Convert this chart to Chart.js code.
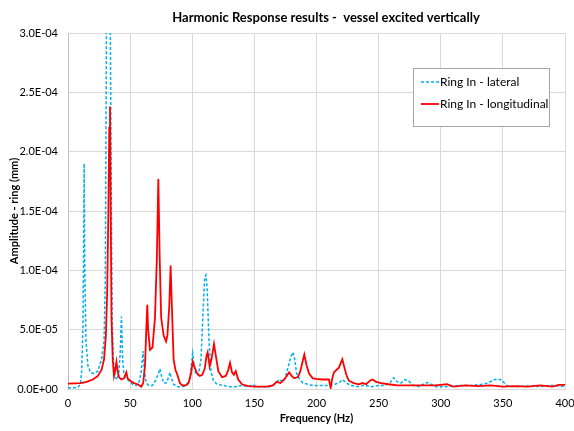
<!DOCTYPE html>
<html>
<head>
<meta charset="utf-8">
<script src="https://cdn.jsdelivr.net/npm/chart.js@4"></script>
<style>
  html, body { margin: 0; padding: 0; background: #fff; }
  #wrap { width: 574px; height: 431px; }
</style>
</head>
<body>
<div id="wrap"><canvas id="harmonicChart" width="574" height="431"></canvas></div>
<script>
const chartTitle = "Harmonic Response results -  vessel excited vertically";
const xTitle = "Frequency (Hz)";
const yTitle = "Amplitude - ring (mm)";

// Ring In - lateral (dashed blue)
const lateralFreq = [0, 5, 8, 10, 11, 12, 12.6, 13, 13.5, 14.5, 16, 18, 21, 24, 27, 29, 30, 30.5, 31, 32.5, 34, 34.6, 35.5, 36.5, 38, 39.5, 41, 42, 43, 44, 45, 47, 49, 52, 55, 57, 59, 60.5, 61.5, 63, 65, 68, 71, 73, 74, 75, 77, 79, 81, 82, 83, 85, 88, 92, 95, 98, 99.5, 100.3, 101.5, 103, 105, 107, 108.5, 110, 111, 112, 113.5, 115, 117, 120, 125, 130, 135, 140, 145, 149, 152, 158, 163, 167, 170, 173, 175, 177, 179, 181, 182.5, 184, 186, 189, 193, 197, 205, 210, 215, 219, 221, 224, 228, 232, 238, 244, 250, 255, 259, 262, 265, 268, 271, 274, 278, 283, 286, 289, 292, 296, 305, 315, 325, 333, 338, 342, 346, 349, 353, 360, 370, 380, 390, 400];
const lateralAmp = [1.0e-6, 1.0e-6, 1.5e-6, 4.0e-6, 1.5e-5, 5.0e-5, 1.2e-4, 1.9e-4, 1.0e-4, 4.0e-5, 2.0e-5, 1.4e-5, 1.3e-5, 1.5e-5, 2.5e-5, 4.0e-5, 9.0e-5, 2.0e-4, 3.2e-4, 5.0e-4, 3.2e-4, 2.0e-4, 6.0e-5, 2.5e-5, 1.0e-5, 8.0e-6, 1.5e-5, 3.0e-5, 6.1e-5, 2.5e-5, 1.3e-5, 9.0e-6, 7.0e-6, 4.0e-6, 3.0e-6, 5.0e-6, 1.5e-5, 3.2e-5, 1.5e-5, 5.0e-6, 3.0e-6, 3.0e-6, 8.0e-6, 1.4e-5, 1.7e-5, 1.2e-5, 5.0e-6, 5.0e-6, 1.0e-5, 1.4e-5, 1.0e-5, 4.0e-6, 2.0e-6, 2.0e-6, 3.0e-6, 8.0e-6, 2.2e-5, 3.0e-5, 2.0e-5, 1.2e-5, 1.2e-5, 2.5e-5, 6.0e-5, 9.4e-5, 9.6e-5, 8.5e-5, 4.0e-5, 1.5e-5, 7.0e-6, 4.0e-6, 3.0e-6, 2.0e-6, 2.0e-6, 3.0e-6, 2.0e-6, 3.5e-6, 2.0e-6, 2.0e-6, 2.0e-6, 5.0e-6, 8.0e-6, 6.0e-6, 1.0e-5, 1.8e-5, 2.6e-5, 3.1e-5, 2.5e-5, 1.3e-5, 9.0e-6, 5.0e-6, 4.0e-6, 3.0e-6, 3.0e-6, 3.0e-6, 4.0e-6, 6.0e-6, 8.0e-6, 5.0e-6, 3.0e-6, 2.0e-6, 3.0e-6, 2.0e-6, 3.0e-6, 3.0e-6, 5.0e-6, 9.5e-6, 6.0e-6, 5.0e-6, 8.0e-6, 7.0e-6, 3.0e-6, 2.0e-6, 4.0e-6, 5.5e-6, 4.0e-6, 2.0e-6, 2.0e-6, 3.0e-6, 3.0e-6, 4.0e-6, 5.0e-6, 7.5e-6, 8.5e-6, 7.5e-6, 3.0e-6, 2.0e-6, 2.5e-6, 2.0e-6, 3.0e-6, 2.0e-6];

// Ring In - longitudinal (solid red)
const longFreq = [0, 10, 15, 20, 24, 27, 29, 30.5, 31.5, 32.5, 33.2, 33.8, 34.4, 35, 36, 37, 38, 39, 40, 41, 43, 45, 47, 48, 50, 53, 56, 59, 60.5, 62, 63, 63.8, 64.5, 66, 68, 70, 71.5, 72.7, 73.8, 75, 77, 78.9, 80, 81.5, 82.6, 83.6, 85, 86.5, 88, 90, 92, 95, 97, 99, 100.4, 102, 104, 106, 108, 110, 111.5, 112.4, 114, 115.5, 117.5, 119, 121, 124, 127, 129, 130.4, 132, 133.5, 135, 137, 140, 145, 150, 160, 165, 168, 171, 174, 176, 178, 180, 182, 185, 187, 189, 190.2, 192, 194, 197, 200, 205, 210, 211.4, 212.5, 214, 216, 218, 220, 220.8, 222, 224, 226, 230, 234, 237, 240, 243, 245, 248, 252, 258, 265, 275, 285, 295, 300, 305, 310, 320, 330, 340, 350, 360, 370, 380, 390, 395, 400];
const longAmp = [4.5e-6, 5.0e-6, 6.0e-6, 8.0e-6, 1.1e-5, 1.6e-5, 2.5e-5, 4.5e-5, 8.0e-5, 1.5e-4, 2.2e-4, 2.38e-4, 1.5e-4, 6.0e-5, 2.5e-5, 1.1e-5, 1.6e-5, 2.3e-5, 1.5e-5, 1.0e-5, 8.0e-6, 9.0e-6, 1.4e-5, 9.0e-6, 7.0e-6, 5.0e-6, 4.0e-6, 2.0e-6, 5.0e-6, 2.0e-5, 5.0e-5, 7.1e-5, 5.0e-5, 3.3e-5, 3.5e-5, 6.0e-5, 1.1e-4, 1.77e-4, 1.1e-4, 6.0e-5, 4.5e-5, 4.0e-5, 4.5e-5, 7.0e-5, 1.04e-4, 7.0e-5, 2.5e-5, 1.6e-5, 1.2e-5, 5.0e-6, 3.0e-6, 3.0e-6, 5.0e-6, 1.3e-5, 2.3e-5, 1.8e-5, 1.3e-5, 1.1e-5, 1.2e-5, 1.7e-5, 2.8e-5, 3.1e-5, 1.9e-5, 2.5e-5, 3.8e-5, 2.8e-5, 1.5e-5, 1.0e-5, 1.1e-5, 1.6e-5, 2.2e-5, 1.4e-5, 1.2e-5, 1.5e-5, 8.0e-6, 4.0e-6, 2.5e-6, 2.0e-6, 2.0e-6, 3.0e-6, 6.0e-6, 5.0e-6, 8.0e-6, 1.1e-5, 1.4e-5, 1.1e-5, 9.0e-6, 1.0e-5, 1.5e-5, 2.4e-5, 2.9e-5, 2.0e-5, 1.3e-5, 9.0e-6, 8.5e-6, 8.0e-6, 8.0e-6, 1.0e-6, 8.0e-6, 1.4e-5, 1.6e-5, 1.8e-5, 2.3e-5, 2.5e-5, 2.0e-5, 1.2e-5, 7.0e-6, 5.0e-6, 4.0e-6, 5.0e-6, 4.0e-6, 7.0e-6, 8.0e-6, 6.0e-6, 5.0e-6, 4.0e-6, 3.0e-6, 3.0e-6, 3.0e-6, 3.0e-6, 3.5e-6, 4.0e-6, 2.0e-6, 3.0e-6, 2.5e-6, 3.0e-6, 2.0e-6, 2.5e-6, 2.0e-6, 3.0e-6, 2.0e-6, 3.5e-6, 3.5e-6];

const FONT = "Lato, 'Open Sans', sans-serif";

function toPoints(xs, ys) {
  return xs.map((x, i) => ({ x: x, y: ys[i] }));
}

function sciLabel(v) {
  let parts = Number(v).toExponential(1).split("e");
  let exp = parseInt(parts[1], 10);
  let sign = exp < 0 ? "-" : "+";
  let digits = String(Math.abs(exp)).padStart(2, "0");
  return parts[0] + "E" + sign + digits;
}

// title drawn at a fixed spot, legend box inside the plot
const decorPlugin = {
  id: "decor",
  afterDraw(chart) {
    const ctx = chart.ctx;
    ctx.save();
    ctx.fillStyle = "#000";
    ctx.font = "bold 13px " + FONT;
    ctx.textAlign = "center";
    ctx.textBaseline = "middle";
    ctx.fillText(chartTitle, 326, 18);

    // legend
    const bx = 413, by = 68, bw = 136, bh = 58;
    ctx.fillStyle = "#fff";
    ctx.fillRect(bx, by, bw, bh);
    ctx.strokeStyle = "#a6a6a6";
    ctx.lineWidth = 1;
    ctx.strokeRect(bx + 0.5, by + 0.5, bw, bh);
    const rows = [82, 104];
    const shown = [0, 1];
    shown.forEach((idx, r) => {
      const ds = chart.data.datasets[idx];
      const y = rows[r];
      ctx.beginPath();
      ctx.strokeStyle = ds.borderColor;
      ctx.lineWidth = ds.borderWidth;
      ctx.setLineDash(ds.borderDash || []);
      ctx.moveTo(421, y);
      ctx.lineTo(439, y);
      ctx.stroke();
      ctx.setLineDash([]);
      ctx.fillStyle = "#000";
      ctx.font = "12px " + FONT;
      ctx.textAlign = "left";
      ctx.fillText(ds.label, 440, y);
    });
    ctx.restore();
  }
};

const ctx = document.getElementById("harmonicChart").getContext("2d");
new Chart(ctx, {
  type: "line",
  data: {
    datasets: [
      {
        label: "Ring In - lateral",
        data: toPoints(lateralFreq, lateralAmp),
        borderColor: "#00b0f0",
        borderWidth: 1.5,
        borderDash: [3, 2],
        pointRadius: 0,
        tension: 0,
        order: 1
      },
      {
        label: "Ring In - longitudinal",
        data: toPoints(longFreq, longAmp),
        borderColor: "#ff0000",
        borderWidth: 1.8,
        pointRadius: 0,
        tension: 0,
        order: 0
      }
    ]
  },
  options: {
    responsive: false,
    animation: false,
    layout: { padding: { top: 33, right: 0, left: 0, bottom: 0 } },
    plugins: {
      legend: { display: false },
      title: { display: false },
      tooltip: { enabled: false }
    },
    scales: {
      x: {
        type: "linear",
        min: 0,
        max: 400,
        ticks: {
          stepSize: 50,
          color: "#000",
          font: { family: FONT, size: 11 },
          maxRotation: 0,
          padding: 8
        },
        grid: { color: "#d9d9d9", drawTicks: false },
        border: { color: "#d9d9d9" },
        title: {
          display: true,
          text: xTitle,
          color: "#000",
          font: { family: FONT, size: 11, weight: "bold" },
          padding: { top: 2, bottom: 6 }
        },
        afterFit(scale) {
          scale.height = 42;
          scale.paddingRight = 9;
        }
      },
      y: {
        min: 0,
        max: 3e-4,
        ticks: {
          stepSize: 5e-5,
          color: "#000",
          font: { family: FONT, size: 11 },
          padding: 10,
          callback: (v) => sciLabel(v)
        },
        grid: { color: "#d9d9d9", drawTicks: false },
        border: { color: "#bfbfbf" },
        title: {
          display: true,
          text: yTitle,
          color: "#000",
          font: { family: FONT, size: 11, weight: "bold" },
          padding: { top: 8, bottom: 0 }
        },
        afterFit(scale) { scale.width = 68; }
      }
    }
  },
  plugins: [decorPlugin]
});
</script>
</body>
</html>
